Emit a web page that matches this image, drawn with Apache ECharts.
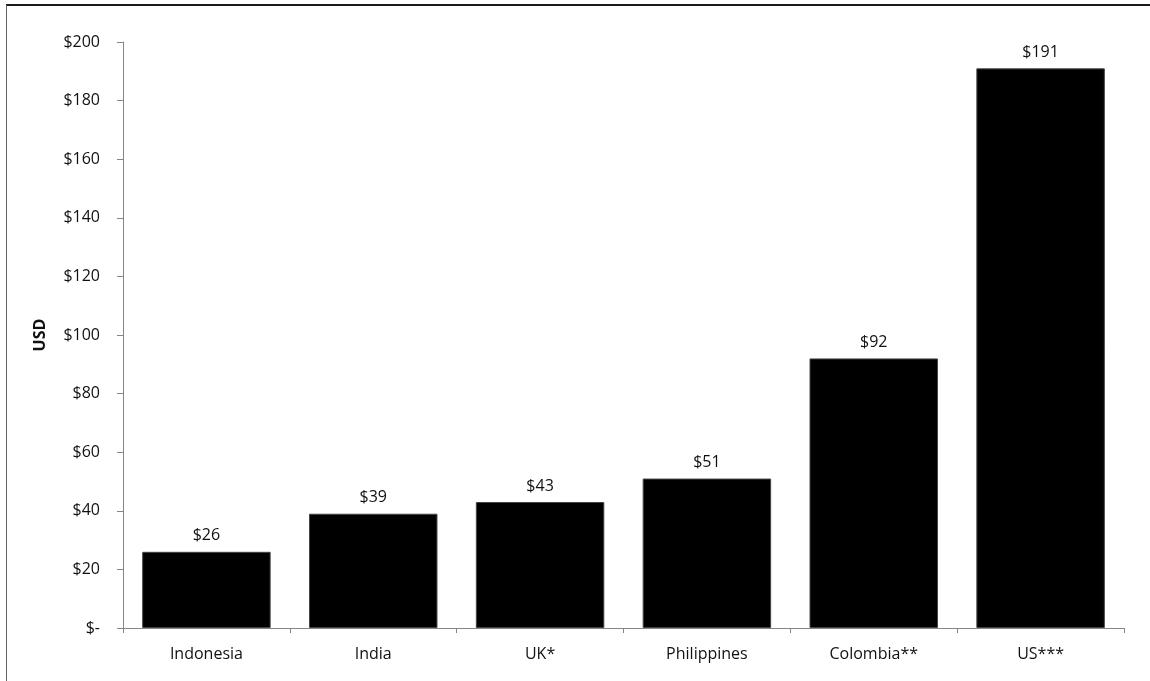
<!DOCTYPE html>
<html>
<head>
<meta charset="utf-8">
<title>Cost by country (USD)</title>
<script src="https://cdn.jsdelivr.net/npm/echarts@6/dist/echarts.min.js"></script>
<style>
  html, body { margin: 0; padding: 0; background: #fff; }
  #chart { width: 1150px; height: 681px; }
</style>
</head>
<body>
<div id="chart"></div>
<script>
// Countries along the x axis
const categories = ['Indonesia', 'India', 'UK*', 'Philippines', 'Colombia**', 'US***'];
// Cost per country in USD
const values = [26, 39, 43, 51, 92, 191];
// Value axis range and step
const yMin = 0;
const yMax = 200;
const yStep = 20;

const font = '"Open Sans", Lato, "Liberation Sans", sans-serif';
const fontSize = 16;

const chart = echarts.init(document.getElementById('chart'), null, { renderer: 'canvas' });

chart.setOption({
  animation: false,
  backgroundColor: '#ffffff',
  graphic: [
    // outer frame: top and left edges
    { type: 'line', shape: { x1: 6, y1: 5, x2: 1150, y2: 5 }, style: { stroke: '#1a1a1a', lineWidth: 2 } },
    { type: 'line', shape: { x1: 6.5, y1: 5, x2: 6.5, y2: 681 }, style: { stroke: '#666666', lineWidth: 1 } }
  ],
  grid: { left: 123, right: 26, top: 42, bottom: 53, containLabel: false },
  xAxis: {
    type: 'category',
    data: categories,
    axisLine: { show: true, lineStyle: { color: '#868686', width: 1 } },
    axisTick: { show: true, alignWithLabel: false, length: 5, lineStyle: { color: '#868686' } },
    axisLabel: { color: '#111', fontFamily: font, fontSize: fontSize, margin: 18 },
    splitLine: { show: false }
  },
  yAxis: {
    type: 'value',
    min: yMin,
    max: yMax,
    interval: yStep,
    name: 'USD',
    nameLocation: 'middle',
    nameGap: 75,
    nameRotate: 90,
    nameTextStyle: { color: '#111', fontFamily: font, fontSize: fontSize, fontWeight: 'bold' },
    axisLine: { show: true, lineStyle: { color: '#868686', width: 1 } },
    axisTick: { show: true, inside: false, length: 6, lineStyle: { color: '#868686' } },
    axisLabel: {
      color: '#111',
      fontFamily: font,
      fontSize: fontSize,
      margin: 23,
      formatter: v => (v === 0 ? '$-' : '$' + v)
    },
    splitLine: { show: false }
  },
  series: [{
    type: 'bar',
    data: values,
    barCategoryGap: '23%',
    itemStyle: { color: '#000000', borderColor: '#444444', borderWidth: 1 },
    label: {
      show: true,
      position: 'top',
      distance: 8,
      color: '#111',
      fontFamily: font,
      fontSize: fontSize,
      formatter: p => '$' + p.value
    }
  }]
});
</script>
</body>
</html>
